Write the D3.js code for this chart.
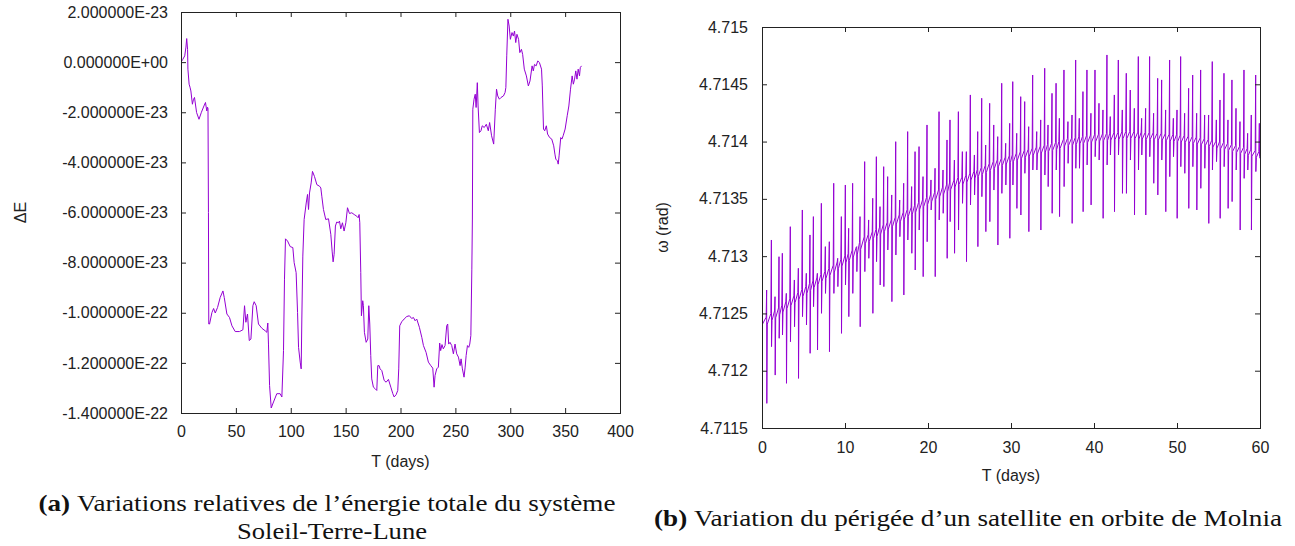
<!DOCTYPE html>
<html>
<head>
<meta charset="utf-8">
<script src="https://cdn.jsdelivr.net/npm/d3@7"></script>
<style>
    body { margin: 0; background: #fff; }
    .tick text { font-family: "Liberation Sans", Arial, sans-serif; font-size: 16px; fill: #222; }
    .tick line { stroke: #222; }
    .axis-title { font-family: "Liberation Sans", Arial, sans-serif; font-size: 16px; fill: #222; }
    .caption { font-family: "Liberation Serif", "DejaVu Serif", serif; font-size: 24px; fill: #111; }
</style>
</head>
<body>
<svg id="fig" width="1295" height="546"></svg>
<script>
// ---- (a) energy drift of the Sun-Earth-Moon system (ΔE in units of 1e-23) ----
const energyDays = [
    0, 1.5, 3.4, 4.5, 5.2, 6.0, 6.3, 7.4, 8.2, 9.0, 10.4, 11.3, 12.3, 14.2, 16.4, 18.6, 20.9, 22.3, 23.5, 24.2, 24.6, 25.0, 25.3,
    26.0, 28.2, 29.7, 31.2, 33.3, 35.7, 38.2, 39.4, 41.8, 44.2, 46.4, 49.4, 53.3, 56.4, 57.9, 59.1, 60.6, 62.2, 63.7, 65.5,
    66.7, 68.5, 70.6, 73.7, 76.7, 78.2, 79.1, 79.7, 80.7, 82.2, 84.3, 87.3, 90.3, 91.9, 93.4, 94.3, 95.2, 97.1, 99.5, 101.9,
    103.1, 104.9, 106.2, 107.1, 108.6, 109.5, 110.1, 111.0, 112.2, 114.1, 115.3, 116.2, 117.1, 118.6, 119.8, 121.6, 123.8,
    126.2, 127.4, 128.3, 129.8, 131.9, 134.4, 136.5, 137.7, 138.6, 139.5, 140.7, 141.9, 143.5, 144.4, 145.6, 147.1, 148.6,
    150.2, 151.7, 153.5, 155.6, 157.8, 160.2, 161.4, 162.3, 162.9, 163.8, 164.4, 165.6, 166.2, 167.1, 168.7, 170.2, 171.1,
    172.0, 172.9, 173.8, 175.3, 176.9, 178.4, 179.3, 180.5, 181.4, 183.0, 185.1, 186.9, 189.0, 191.2, 193.0, 194.2, 196.0,
    197.5, 198.4, 199.3, 201.1, 203.3, 205.7, 208.1, 210.2, 211.8, 213.3, 214.8, 217.2, 219.4, 220.9, 223.3, 225.4, 227.6,
    229.4, 230.6, 231.5, 233.0, 234.5, 235.7, 236.6, 237.8, 239.0, 240.6, 242.1, 243.0, 243.9, 245.1, 246.7, 248.2, 249.7,
    251.2, 252.8, 254.3, 255.2, 256.4, 257.9, 258.9, 259.8, 261.0, 262.2, 263.1, 264.1, 265.0, 265.5, 265.9, 267.0, 268.1,
    268.9, 270.0, 270.7, 271.9, 273.3, 274.5, 276.3, 278.2, 280.0, 281.2, 283.0, 284.9, 286.4, 287.5, 288.6, 290.1, 291.6,
    293.8, 295.3, 296.0, 296.8, 297.9, 299.0, 300.1, 301.6, 302.8, 303.9, 305.0, 306.1, 307.6, 308.7, 310.2, 311.3, 312.8,
    314.7, 316.5, 318.0, 319.9, 321.0, 322.1, 323.6, 325.1, 326.6, 328.5, 329.2, 330.3, 331.4, 332.9, 334.0, 335.9, 337.8,
    339.6, 340.7, 341.5, 343.0, 343.7, 344.5, 346.0, 347.1, 348.2, 350.0, 351.9, 353.4, 354.9, 356.4, 357.5, 358.6, 359.7,
    360.8, 361.9, 363.1, 363.8, 364.9
];
const energyDeltaE23 = [
    0.0, 0.1, 0.25, 0.6, 0.94, 0.5, -0.28, -0.88, -1.0, -1.15, -1.68, -1.5, -1.41, -2.01, -2.28, -2.0, -1.75, -1.61, -1.95, -1.8, -1.85, -6.0, -10.45,
    -10.45, -9.99, -9.83, -10.01, -9.79, -9.39, -9.13, -9.39, -10.05, -10.19, -10.52, -10.75, -10.75, -10.68, -9.72, -10.38, -10.05, -11.11, -11.05, -9.72,
    -9.56, -9.72, -10.45, -10.62, -10.72, -10.78, -10.41, -11.25, -12.9, -13.8, -13.56, -13.23, -13.23, -13.36, -11.51, -8.66, -7.05, -7.14, -7.36, -7.4,
    -8.0, -8.4, -9.99, -11.38, -11.97, -12.24, -10.25, -7.74, -6.28, -5.62, -5.28, -5.88, -5.22, -4.82, -4.36, -4.56, -4.89,
    -4.95, -5.02, -5.35, -5.88, -6.28, -6.25, -6.87, -7.54, -7.97, -7.67, -6.54, -6.38, -6.41, -6.34, -6.65, -6.41, -6.74,
    -6.41, -5.81, -6.04, -6.01, -6.08, -6.15, -6.21, -6.08, -6.41, -8.40, -10.12, -9.52, -9.72, -10.78, -11.18, -11.05, -9.72,
    -10.45, -11.71, -12.64, -12.97, -13.03, -13.1, -12.11, -12.11, -12.24, -12.31, -12.7, -12.77, -12.66, -12.97, -13.23, -13.36, -13.27,
    -13.1, -12.24, -10.52, -10.36, -10.25, -10.15, -10.12, -10.23, -10.19, -10.32, -10.25, -10.58, -10.98, -11.31, -11.58, -11.97, -12.11,
    -12.21, -12.97, -12.5, -12.24, -12.17, -11.21, -11.51, -11.27, -11.44, -11.31, -10.52, -10.45, -11.25, -11.18, -11.31, -11.64, -11.25,
    -11.64, -11.77, -12.11, -11.84, -12.24, -12.57, -12.17, -11.71, -11.31, -11.38, -11.25, -10.91, -8.26, -6.26, -1.88, -1.48, -1.28,
    -1.81, -0.82, -1.75, -2.81, -2.74, -2.54, -2.61, -2.48, -2.74, -2.41, -2.94, -3.27, -1.88, -1.08, -1.35, -1.48, -1.41,
    -1.35, -1.21, -1.01, 0.25, 1.71, 1.44, 0.91, 1.18, 1.04, 1.24, 0.78, 1.11, 0.91, 0.38, 0.51, 0.31, -0.28,
    -0.55, -0.95, -0.75, -0.15, -0.35, -0.09, -0.15, 0.05, -0.02, -0.28, -0.95, -2.67, -2.74, -2.54, -2.87, -3.01, -3.07,
    -3.34, -3.67, -3.87, -3.94, -4.07, -3.74, -3.01, -3.07, -2.94, -2.67, -2.14, -1.75, -1.08, -0.55, -0.88, -0.68, -0.35,
    -0.68, -0.28, -0.55, -0.22, -0.15
];
const energyXTicks = [0, 50, 100, 150, 200, 250, 300, 350, 400];
const energyYTicksE23 = [2, 0, -2, -4, -6, -8, -10, -12, -14];

// ---- (b) argument of perigee of a Molnia satellite (rad) ----
// one row per orbit: day of the perigee passage, mean level, top and bottom of the spike
const omegaStart = [0, 4.712399];
const spikeDays = [
    0.56, 1.13, 1.57, 2.05, 2.45, 2.93, 3.41, 3.90, 4.38, 4.86, 5.34, 5.78, 6.19, 6.67, 7.15, 7.63, 8.11, 8.64, 9.12, 9.56, 10.04, 10.44, 10.92, 11.41,
    11.81, 12.37, 12.85, 13.34, 13.78, 14.22, 14.66, 15.14, 15.63, 16.11, 16.59, 17.07, 17.55, 18.03, 18.44, 18.92, 19.40, 19.88, 20.36, 20.85, 21.33, 21.81, 22.29, 22.65, 23.18, 23.66,
    24.14, 24.62, 25.10, 25.59, 25.99, 26.47, 26.95, 27.43, 27.92, 28.40, 28.88, 29.36, 29.84, 30.21, 30.69, 31.17, 31.65, 32.13, 32.61, 33.10, 33.58, 34.06, 34.46, 34.94, 35.43, 35.83,
    36.38, 36.86, 37.35, 37.79, 38.23, 38.67, 39.15, 39.63, 40.12, 40.60, 41.08, 41.56, 41.96, 42.45, 42.93, 43.41, 43.89, 44.37, 44.86, 45.34, 45.74, 46.22, 46.70, 47.18, 47.67,
    48.15, 48.63, 49.11, 49.56, 50.00, 50.44, 50.92, 51.40, 51.89, 52.37, 52.85, 53.33, 53.81, 54.25, 54.74, 55.18, 55.66, 56.14, 56.62, 57.11, 57.59, 58.07, 58.51, 58.95, 59.48, 59.92
];
const spikeBase = [
    4.712437, 4.712469, 4.712492, 4.712518, 4.712542, 4.712571, 4.712597, 4.712623, 4.712652, 4.712678, 4.712705, 4.712731, 4.712754, 4.712780, 4.712809, 4.712836, 4.712862, 4.712891, 4.712920, 4.712943, 4.712972, 4.712993, 4.713022, 4.713048,
    4.713090, 4.713138, 4.713159, 4.713182, 4.713202, 4.713223, 4.713243, 4.713266, 4.713286, 4.713310, 4.713330, 4.713353, 4.713377, 4.713397, 4.713414, 4.713438, 4.713461, 4.713481, 4.713505, 4.713525, 4.713548, 4.713572, 4.713592, 4.713609, 4.713633, 4.713656,
    4.713659, 4.713676, 4.713694, 4.713711, 4.713726, 4.713743, 4.713761, 4.713778, 4.713796, 4.713810, 4.713822, 4.713834, 4.713845, 4.713854, 4.713868, 4.713880, 4.713892, 4.713903, 4.713912, 4.713921, 4.713930, 4.713938, 4.713944, 4.713953, 4.713962, 4.713970,
    4.713991, 4.713997, 4.713999, 4.714005, 4.714011, 4.714014, 4.714020, 4.714026, 4.714029, 4.714034, 4.714037, 4.714040, 4.714043, 4.714046, 4.714049, 4.714055, 4.714058, 4.714058, 4.714055, 4.714052, 4.714052, 4.714049, 4.714049, 4.714046, 4.714043,
    4.714043, 4.714037, 4.714034, 4.714031, 4.714029, 4.714026, 4.714023, 4.714017, 4.714014, 4.714008, 4.714002, 4.713994, 4.713988, 4.713982, 4.713973, 4.713967, 4.713962, 4.713953, 4.713944, 4.713935, 4.713927, 4.713918, 4.713909, 4.713903, 4.713892, 4.713883
];
const spikeHigh = [
    4.712704, 4.713141, 4.712646, 4.712995, 4.713025, 4.712675, 4.713257, 4.712792, 4.712894, 4.713403, 4.712850, 4.713185, 4.713345, 4.712850, 4.713461, 4.713083, 4.713126, 4.713636, 4.712981, 4.713345, 4.713621, 4.713243, 4.713636, 4.713083,
    4.713345, 4.713825, 4.713316, 4.713505, 4.713868, 4.713432, 4.713781, 4.713694, 4.713534, 4.713999, 4.713490, 4.713636, 4.714087, 4.713607, 4.713912, 4.713956, 4.713694, 4.714145, 4.713665, 4.713767, 4.714261, 4.713752, 4.714014, 4.714189, 4.713839, 4.714261,
    4.713912, 4.713912, 4.714407, 4.713883, 4.714087, 4.714378, 4.713970, 4.714334, 4.714145, 4.714043, 4.714509, 4.713985, 4.714159, 4.714523, 4.714072, 4.714392, 4.714349, 4.714130, 4.714581, 4.714087, 4.714189, 4.714640, 4.714145, 4.714421, 4.714509, 4.714203,
    4.714625, 4.714174, 4.714232, 4.714712, 4.714203, 4.714436, 4.714625, 4.714247, 4.714625, 4.714334, 4.714276, 4.714756, 4.714218, 4.714407, 4.714712, 4.714276, 4.714596, 4.714450, 4.714290, 4.714742, 4.714203, 4.714290, 4.714742, 4.714247, 4.714552,
    4.714538, 4.714276, 4.714712, 4.714203, 4.714276, 4.714742, 4.714247, 4.714465, 4.714581, 4.714247, 4.714625, 4.714232, 4.714232, 4.714698, 4.714189, 4.714363, 4.714596, 4.714189, 4.714538, 4.714290, 4.714174, 4.714625, 4.714072, 4.714232, 4.714581, 4.714159
];
const spikeLow = [
    4.711715, 4.712210, 4.711962, 4.712283, 4.712312, 4.711890, 4.712253, 4.712384, 4.711933, 4.712472, 4.712399, 4.712152, 4.712559, 4.712181, 4.712501, 4.712675, 4.712166, 4.712675, 4.712734, 4.712326, 4.712748, 4.712472, 4.712675, 4.712865,
    4.712384, 4.712865, 4.712981, 4.712501, 4.712952, 4.712748, 4.712734, 4.713054, 4.712603, 4.713010, 4.713170, 4.712661, 4.713141, 4.713025, 4.712879, 4.713228, 4.712821, 4.713126, 4.713403, 4.712821, 4.713316, 4.713374, 4.712981, 4.713301, 4.713025, 4.713228,
    4.713461, 4.712952, 4.713447, 4.713534, 4.713083, 4.713519, 4.713214, 4.713301, 4.713577, 4.713097, 4.713548, 4.713621, 4.713156, 4.713621, 4.713417, 4.713359, 4.713723, 4.713214, 4.713752, 4.713752, 4.713228, 4.713708, 4.713607, 4.713374, 4.713752, 4.713345,
    4.713607, 4.713810, 4.713286, 4.713767, 4.713767, 4.713388, 4.713796, 4.713447, 4.713868, 4.713839, 4.713330, 4.713796, 4.713883, 4.713388, 4.713883, 4.713548, 4.713548, 4.713839, 4.713359, 4.713752, 4.713883, 4.713359, 4.713868, 4.713636, 4.713534,
    4.713839, 4.713388, 4.713694, 4.713868, 4.713330, 4.713781, 4.713723, 4.713417, 4.713781, 4.713403, 4.713592, 4.713767, 4.713286, 4.713752, 4.713825, 4.713330, 4.713781, 4.713417, 4.713476, 4.713752, 4.713228, 4.713679, 4.713752, 4.713228, 4.713738, 4.713868
];
const omegaXTicks = [0, 10, 20, 30, 40, 50, 60];
const omegaYTicks = [4.7115, 4.712, 4.7125, 4.713, 4.7135, 4.714, 4.7145, 4.715];

const lineColor = '#9400d3';
const svg = d3.select('#fig');

// gnuplot style "%E" labels: 2.000000E-23, 0.000000E+00
function sciLabel(v) {
    let [m, e] = v.toExponential(6).split('e');
    let sign = e[0] === '-' ? '-' : '+';
    let digits = e.replace(/[+-]/, '').padStart(2, '0');
    return m + 'E' + sign + digits;
}

function drawPanel(p) {
    let g = svg.append('g');
    let x = d3.scaleLinear().domain(p.xDomain).range([p.left, p.right]);
    let y = d3.scaleLinear().domain(p.yDomain).range([p.bottom, p.top]);

    g.append('clipPath').attr('id', p.id + '-clip')
        .append('rect')
        .attr('x', p.left).attr('y', p.top)
        .attr('width', p.right - p.left).attr('height', p.bottom - p.top);

    // series
    g.append('path')
        .datum(p.points)
        .attr('clip-path', `url(#${p.id}-clip)`)
        .attr('fill', 'none')
        .attr('stroke', lineColor)
        .attr('stroke-width', 1)
        .attr('stroke-linejoin', 'round')
        .attr('d', d3.line().x(d => x(d[0])).y(d => y(d[1])));

    // inward ticks on all four sides, like gnuplot's mirrored tics
    let tick = 5;
    g.append('g')
        .attr('transform', `translate(0,${p.bottom})`)
        .call(d3.axisBottom(x).tickValues(p.xTicks).tickFormat(d3.format('d'))
            .tickSizeInner(-tick).tickSizeOuter(0).tickPadding(p.xPad))
        .call(a => a.select('.domain').remove());
    g.append('g')
        .attr('transform', `translate(0,${p.top})`)
        .call(d3.axisTop(x).tickValues(p.xTicks).tickFormat('')
            .tickSizeInner(-tick).tickSizeOuter(0))
        .call(a => a.select('.domain').remove());
    g.append('g')
        .attr('transform', `translate(${p.left},0)`)
        .call(d3.axisLeft(y).tickValues(p.yTicks).tickFormat(p.yFormat)
            .tickSizeInner(-tick).tickSizeOuter(0).tickPadding(p.yPad))
        .call(a => a.select('.domain').remove());
    g.append('g')
        .attr('transform', `translate(${p.right},0)`)
        .call(d3.axisRight(y).tickValues(p.yTicks).tickFormat('')
            .tickSizeInner(-tick).tickSizeOuter(0))
        .call(a => a.select('.domain').remove());

    // border
    g.append('rect')
        .attr('x', p.left + 0.5).attr('y', p.top + 0.5)
        .attr('width', p.right - p.left).attr('height', p.bottom - p.top)
        .attr('fill', 'none')
        .attr('stroke', '#222')
        .attr('stroke-width', 1);

    // axis titles
    g.append('text')
        .attr('class', 'axis-title')
        .attr('x', (p.left + p.right) / 2)
        .attr('y', p.xTitleY)
        .attr('text-anchor', 'middle')
        .text('T (days)');
    g.append('text')
        .attr('class', 'axis-title')
        .attr('transform', `translate(${p.yTitleX},${(p.top + p.bottom) / 2}) rotate(-90)`)
        .attr('text-anchor', 'middle')
        .attr('dominant-baseline', 'central')
        .text(p.yTitle);
}

// panel (a)
let energyPoints = energyDays.map((d, i) => [d, energyDeltaE23[i] * 1e-23]);
drawPanel({
    id: 'energy',
    left: 181, right: 620, top: 12, bottom: 413,
    xDomain: [0, 400], yDomain: [-1.4e-22, 2e-23],
    xTicks: energyXTicks,
    yTicks: energyYTicksE23.map(v => v * 1e-23),
    yFormat: sciLabel,
    xPad: 13, yPad: 13,
    xTitleY: 467, yTitleX: 20, yTitle: 'ΔE',
    points: energyPoints
});

// panel (b): each orbit draws a sharp spike through the perigee passage
let omegaPoints = [omegaStart];
let jitter = 0.00003;
spikeDays.forEach((t, i) => {
    omegaPoints.push([t - 0.06, spikeBase[i] + jitter]);
    omegaPoints.push([t, spikeHigh[i]]);
    omegaPoints.push([t + 0.02, spikeLow[i]]);
    omegaPoints.push([t + 0.08, spikeBase[i] - jitter]);
});
drawPanel({
    id: 'omega',
    left: 762, right: 1260, top: 27, bottom: 428,
    xDomain: [0, 60], yDomain: [4.7115, 4.715],
    xTicks: omegaXTicks,
    yTicks: omegaYTicks,
    yFormat: d => String(d),
    xPad: 14, yPad: 14,
    xTitleY: 481, yTitleX: 662, yTitle: 'ω (rad)',
    points: omegaPoints
});

// captions
function caption(tag, text, cx, baseline, width) {
    let t = svg.append('text')
        .attr('class', 'caption')
        .attr('x', cx - width / 2)
        .attr('y', baseline)
        .attr('textLength', width)
        .attr('lengthAdjust', 'spacingAndGlyphs');
    if (tag) {
        t.append('tspan').attr('font-weight', 'bold').text(tag + ' ');
    }
    t.append('tspan').text(text);
}
caption('(a)', 'Variations relatives de l’énergie totale du système', 327, 511, 577);
caption(null, 'Soleil-Terre-Lune', 332, 539, 190);
caption('(b)', 'Variation du périgée d’un satellite en orbite de Molnia', 968, 526, 628);
</script>
</body>
</html>
